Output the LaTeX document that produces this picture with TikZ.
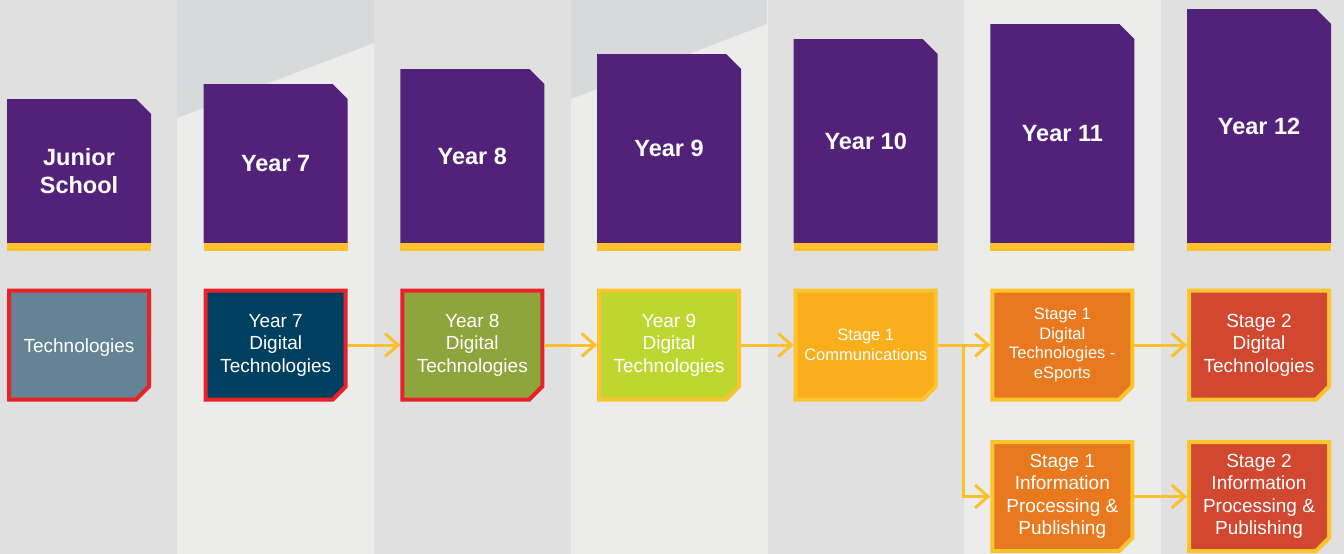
\documentclass[tikz,border=0pt]{standalone}
\usepackage{fontspec}
\setmainfont{Liberation Sans}
\usetikzlibrary{arrows.meta}
\definecolor{bggray}{HTML}{DFE0DF}
\definecolor{bglight}{HTML}{ECEDEA}
\definecolor{bgdark}{HTML}{D7DADB}
\definecolor{purp}{HTML}{52227A}
\definecolor{gold}{HTML}{FDC22B}
\definecolor{redc}{HTML}{E92128}
\definecolor{yelc}{HTML}{FCC42C}
\definecolor{arrowc}{HTML}{FCC02B}
\definecolor{techc}{HTML}{648496}
\definecolor{navyc}{HTML}{003F5F}
\definecolor{olivec}{HTML}{8DA53C}
\definecolor{limec}{HTML}{BDD630}
\definecolor{amberc}{HTML}{F9AF1B}
\definecolor{orangec}{HTML}{E8791F}
\definecolor{brickc}{HTML}{D24730}
\pgfdeclarelayer{back}
\pgfdeclarelayer{shapes}
\pgfsetlayers{back,shapes,main}
\tikzset{
  hdtext/.style={text=white, align=center, font=\fontsize{23.5}{28}\selectfont\bfseries},
  course/.style={minimum width=144pt, minimum height=113pt, inner sep=0pt, outer sep=0pt,
    text=white, align=center, font=\fontsize{19}{22.5}\selectfont,
    execute at begin node={\rule{0pt}{19pt}}},
  small/.style={font=\fontsize{16.5}{19.5}\selectfont,
    execute at begin node={\rule{0pt}{18.5pt}}},
  flow/.style={draw=arrowc, line width=3pt, -{Straight Barb[length=13pt,width=23pt]}}
}
% box with a cut corner, drawn behind its node
\newcommand\coursebox[2]{%
  \begin{pgfonlayer}{shapes}
    \filldraw[line width=4pt,#2] ([xshift=2pt,yshift=-2pt]#1.north west)
      -- ([xshift=-2pt,yshift=-2pt]#1.north east)
      -- ([xshift=-2pt,yshift=15pt]#1.south east)
      -- ([xshift=-15pt,yshift=2pt]#1.south east)
      -- ([xshift=2pt,yshift=2pt]#1.south west) -- cycle;
  \end{pgfonlayer}}
\begin{document}
\begin{tikzpicture}[x=1pt,y=-1pt]
  \useasboundingbox (0,0) rectangle (1344,554);
  % stripes
  \begin{pgfonlayer}{back}
    \fill[bggray] (0,0) rectangle (1344,554);
    \foreach \x in {177,571,964}
      \fill[bglight] (\x,0) rectangle ++(197,554);
    \fill[bgdark] (177,0) -- (374,0) -- (374,43) -- (177,118) -- cycle;
    \fill[bgdark] (571,0) -- (767,0) -- (767,24) -- (571,99) -- cycle;
  \end{pgfonlayer}
  % year headers
  \foreach \lbl [count=\i from 0] in {{Junior\\School},{Year 7},{Year 8},{Year 9},{Year 10},{Year 11},{Year 12}}{
    \pgfmathsetmacro\hx{7+196.67*\i}
    \pgfmathsetmacro\hy{99-15*\i}
    \begin{pgfonlayer}{shapes}
      \fill[purp] (\hx,\hy) -- ++(129,0) -- ++(15,15) |- (\hx,243) -- cycle;
      \fill[gold] (\hx,243) rectangle ++(144,8);
    \end{pgfonlayer}
    \node[hdtext] (hd\i) at ({\hx+72},{(\hy+243)/2}) {\lbl};
  }
  % courses
  \node[course] (tech) at (79,345) {Technologies};
  \node[course] (dt7) at (275.7,345) {Year 7\\Digital\\Technologies};
  \node[course] (dt8) at (472.3,345) {Year 8\\Digital\\Technologies};
  \node[course] (dt9) at (669,345) {Year 9\\Digital\\Technologies};
  \node[course,small] (comm) at (865.7,345) {Stage 1\\Communications};
  \node[course,small] (s1dt) at (1062.3,345) {Stage 1\\Digital\\Technologies -\\eSports};
  \node[course] (s2dt) at (1259,345) {Stage 2\\Digital\\Technologies};
  \node[course] (s1ipp) at (1062.3,496.5) {Stage 1\\Information\\Processing \&\\Publishing};
  \node[course] (s2ipp) at (1259,496.5) {Stage 2\\Information\\Processing \&\\Publishing};
  \coursebox{tech}{fill=techc,draw=redc}
  \coursebox{dt7}{fill=navyc,draw=redc}
  \coursebox{dt8}{fill=olivec,draw=redc}
  \coursebox{dt9}{fill=limec,draw=yelc}
  \coursebox{comm}{fill=amberc,draw=yelc}
  \coursebox{s1dt}{fill=orangec,draw=yelc}
  \coursebox{s2dt}{fill=brickc,draw=yelc}
  \coursebox{s1ipp}{fill=orangec,draw=yelc}
  \coursebox{s2ipp}{fill=brickc,draw=yelc}
  % pathway
  \coordinate (split) at (963,345);
  \draw[flow] (dt7.east) -- (dt8.west);
  \draw[flow] (dt8.east) -- (dt9.west);
  \draw[flow] (dt9.east) -- (comm.west);
  \draw[flow] (comm.east) -- (s1dt.west);
  \draw[flow] (comm.east) -- (split) |- (s1ipp.west);
  \draw[flow] (s1dt.east) -- (s2dt.west);
  \draw[flow] (s1ipp.east) -- (s2ipp.west);
\end{tikzpicture}
\end{document}
